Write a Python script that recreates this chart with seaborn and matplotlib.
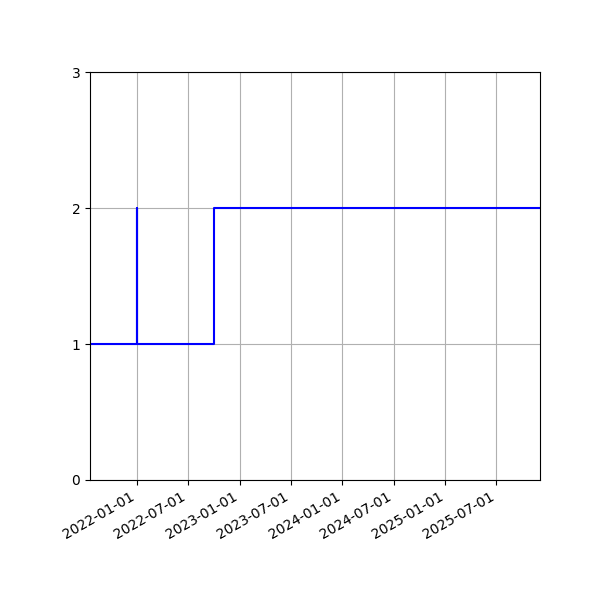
import matplotlib
matplotlib.use('Agg')
import matplotlib.pyplot as plt
import matplotlib.dates as mdates
import pandas as pd
import seaborn as sns

# 値の変化点
dates = ['2021-07-19', '2022-01-01', '2022-01-02', '2022-10-03', '2025-12-03']
values = [1, 2, 1, 2, 2]
y_ticks = [0, 1, 2, 3]


def main():
    df = pd.DataFrame({'date': pd.to_datetime(dates), 'value': values})

    fig, ax = plt.subplots(figsize=(6, 6), dpi=100)
    sns.lineplot(data=df, x='date', y='value', drawstyle='steps-post',
                 color='blue', linewidth=1.5, ax=ax)

    ax.set_xlim(df['date'].min(), df['date'].max())
    ax.set_ylim(0, 3)
    ax.set_yticks(y_ticks)
    ax.xaxis.set_major_locator(mdates.MonthLocator(bymonth=[1, 7]))
    ax.xaxis.set_major_formatter(mdates.DateFormatter('%Y-%m-%d'))
    ax.set_xlabel('')
    ax.set_ylabel('')
    ax.grid(True)

    fig.autofmt_xdate()
    fig.subplots_adjust(left=0.15, right=0.9, top=0.88, bottom=0.2)
    fig.savefig('out.png')


if __name__ == '__main__':
    main()
